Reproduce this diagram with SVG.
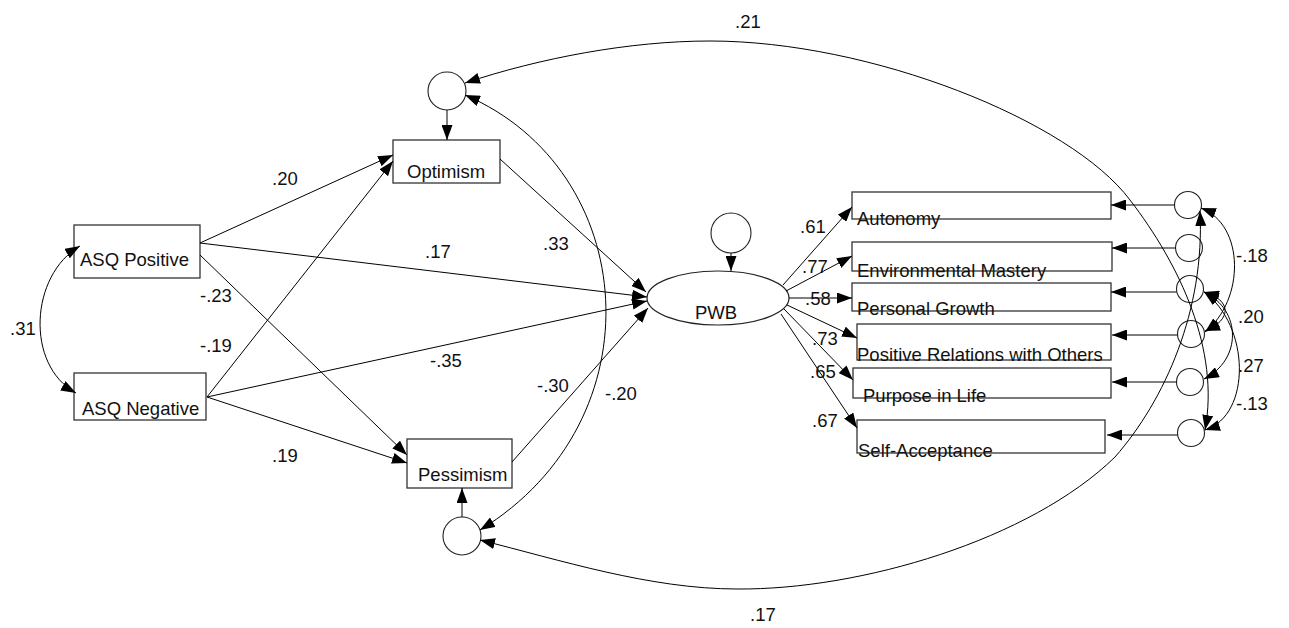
<svg xmlns="http://www.w3.org/2000/svg" width="1289" height="628" viewBox="0 0 1289 628">
  <defs>
    <marker id="ah" viewBox="0 0 15 11" refX="15" refY="5.5" markerWidth="15" markerHeight="11" markerUnits="userSpaceOnUse" orient="auto-start-reverse">
      <path d="M0,0 L15,5.5 L0,11 z" fill="#000"/>
    </marker>
    <style>
      .box { fill: #fff; stroke: #333; stroke-width: 1.3; }
      .err { fill: none; stroke: #222; stroke-width: 1.1; }
      .lat { fill: #fff; stroke: #222; stroke-width: 1.2; }
      .lbl { font-family: "Liberation Sans", Arial, sans-serif; font-size: 18.5px; fill: #111; }
      .path { fill: none; stroke: #000; stroke-width: 1; marker-end: url(#ah); }
      .cov { fill: none; stroke: #000; stroke-width: 1; marker-start: url(#ah); marker-end: url(#ah); }
    </style>
  </defs>

  <rect width="1289" height="628" fill="#fff"/>

  <!-- exogenous predictors -->
  <g id="asq-positive">
    <rect class="box" x="74" y="225" width="126" height="53"/>
    <text class="lbl" x="80" y="266">ASQ Positive</text>
  </g>
  <g id="asq-negative">
    <rect class="box" x="74" y="373" width="132" height="47"/>
    <text class="lbl" x="82" y="415">ASQ Negative</text>
  </g>

  <!-- mediators and their residuals -->
  <g id="optimism">
    <rect class="box" x="393" y="140" width="107" height="43"/>
    <text class="lbl" x="407" y="178">Optimism</text>
  </g>
  <g id="e-optimism">
    <circle class="err" cx="447" cy="91" r="19"/>
  </g>
  <g id="pessimism">
    <rect class="box" x="407" y="439" width="105" height="49"/>
    <text class="lbl" x="418" y="481">Pessimism</text>
  </g>
  <g id="e-pessimism">
    <circle class="err" cx="462" cy="536" r="19"/>
  </g>

  <!-- latent outcome -->
  <g id="pwb">
    <ellipse class="lat" cx="718" cy="298" rx="71" ry="27"/>
    <text class="lbl" x="695" y="319">PWB</text>
  </g>
  <g id="e-pwb">
    <circle class="err" cx="731" cy="233" r="20"/>
  </g>

  <!-- indicators -->
  <g id="autonomy">
    <rect class="box" x="852" y="192" width="259" height="27"/>
    <text class="lbl" x="857" y="225">Autonomy</text>
  </g>
  <g id="environmental-mastery">
    <rect class="box" x="852" y="242" width="260" height="29"/>
    <text class="lbl" x="857" y="277">Environmental Mastery</text>
  </g>
  <g id="personal-growth">
    <rect class="box" x="852" y="283" width="259" height="28"/>
    <text class="lbl" x="857" y="315">Personal Growth</text>
  </g>
  <g id="positive-relations">
    <rect class="box" x="857" y="324" width="254" height="36"/>
    <text class="lbl" x="857" y="361">Positive Relations with Others</text>
  </g>
  <g id="purpose-in-life">
    <rect class="box" x="853" y="368" width="258" height="30"/>
    <text class="lbl" x="863" y="402">Purpose in Life</text>
  </g>
  <g id="self-acceptance">
    <rect class="box" x="857" y="420" width="248" height="33"/>
    <text class="lbl" x="858" y="457">Self-Acceptance</text>
  </g>

  <!-- indicator residuals -->
  <g id="e1"><circle class="err" cx="1188" cy="205" r="13.5"/></g>
  <g id="e2"><circle class="err" cx="1189" cy="248" r="13.5"/></g>
  <g id="e3"><circle class="err" cx="1190" cy="289" r="13.5"/></g>
  <g id="e4"><circle class="err" cx="1191" cy="334" r="13.5"/></g>
  <g id="e5"><circle class="err" cx="1190" cy="382" r="13.5"/></g>
  <g id="e6"><circle class="err" cx="1191" cy="433" r="13.5"/></g>

  <g id="connectors">
    <!-- structural paths -->
    <path class="path" d="M200,243 L393,155"/>
    <path class="path" d="M200,243 L647,297"/>
    <path class="path" d="M200,255 L407,455"/>
    <path class="path" d="M207,397 L393,161"/>
    <path class="path" d="M207,397 L647,301"/>
    <path class="path" d="M207,397 L407,463"/>
    <path class="path" d="M500,159 L646,292"/>
    <path class="path" d="M512,462 L648,308"/>

    <!-- residual paths -->
    <path class="path" d="M447,110 L447,140"/>
    <path class="path" d="M462,517 L462,488"/>
    <path class="path" d="M731,253 L731,271"/>

    <!-- loadings -->
    <path class="path" d="M783,285 L852,207"/>
    <path class="path" d="M786,291 L852,256"/>
    <path class="path" d="M789,298 L852,298"/>
    <path class="path" d="M787,305 L857,338"/>
    <path class="path" d="M784,309 L853,380"/>
    <path class="path" d="M781,314 L857,428"/>

    <!-- indicator residual paths -->
    <path class="path" d="M1174.5,205 L1111,205"/>
    <path class="path" d="M1175.5,248 L1112,248"/>
    <path class="path" d="M1176.5,292 L1111,292"/>
    <path class="path" d="M1177.5,335 L1112,335"/>
    <path class="path" d="M1176.5,382 L1112,382"/>
    <path class="path" d="M1177.5,435 L1107,435"/>

    <!-- covariances -->
    <path class="cov" d="M80,246 C30,275 25,365 76,393"/>
    <path class="cov" d="M465,95 C640,170 660,420 480,530"/>
    <path class="cov" d="M465,83 C540,58 630,41 710,41 C870,41 1070,120 1130,200 C1180,265 1220,350 1205,430"/>
    <path class="cov" d="M480,540 C560,560 650,589 737,589 C860,590 1030,540 1115,457 C1165,400 1205,310 1200,211"/>
    <path class="cov" d="M1201,208 C1245,225 1245,300 1205,332"/>
    <path class="cov" d="M1204,292 C1232,300 1232,320 1205,331"/>
    <path class="cov" d="M1204,292 C1242,310 1242,360 1204,379"/>
    <path class="cov" d="M1204,292 C1250,325 1252,415 1205,430"/>
  </g>

  <g id="coefficients">
    <text class="lbl" x="10" y="335">.31</text>
    <text class="lbl" x="272" y="185">.20</text>
    <text class="lbl" x="425" y="258">.17</text>
    <text class="lbl" x="200" y="302">-.23</text>
    <text class="lbl" x="200" y="352">-.19</text>
    <text class="lbl" x="430" y="367">-.35</text>
    <text class="lbl" x="272" y="462">.19</text>
    <text class="lbl" x="543" y="250">.33</text>
    <text class="lbl" x="537" y="392">-.30</text>
    <text class="lbl" x="605" y="400">-.20</text>
    <text class="lbl" x="800" y="233">.61</text>
    <text class="lbl" x="802" y="273">.77</text>
    <text class="lbl" x="805" y="305">.58</text>
    <text class="lbl" x="812" y="345">.73</text>
    <text class="lbl" x="810" y="378">.65</text>
    <text class="lbl" x="812" y="427">.67</text>
    <text class="lbl" x="735" y="28">.21</text>
    <text class="lbl" x="750" y="621">.17</text>
    <text class="lbl" x="1236" y="262">-.18</text>
    <text class="lbl" x="1238" y="323">.20</text>
    <text class="lbl" x="1238" y="372">.27</text>
    <text class="lbl" x="1236" y="410">-.13</text>
  </g>
</svg>
